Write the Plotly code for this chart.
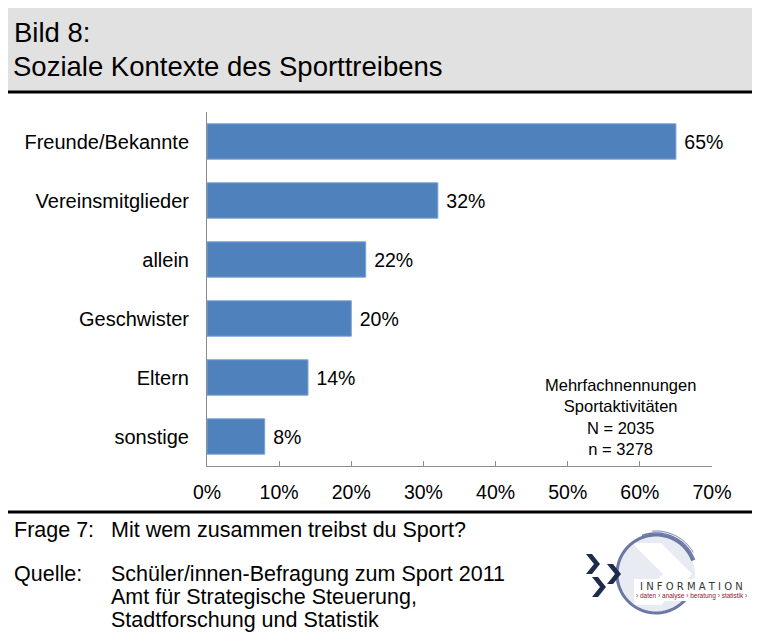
import numpy as np
import plotly.graph_objects as go

# data
kategorien = ["Freunde/Bekannte", "Vereinsmitglieder", "allein", "Geschwister", "Eltern", "sonstige"]
anteile = [65, 32, 22, 20, 14, 8]
x_ticks = [0, 10, 20, 30, 40, 50, 60, 70]
x_ticklabels = ["0%", "10%", "20%", "30%", "40%", "50%", "60%", "70%"]

# the page has an 8px body margin, so the figure is 8px smaller and everything is shifted
OFF = 8
W, H = 760 - OFF, 635 - OFF
L, R, T, B = 207, 712, 112, 466   # plot area in reference pixels
FONT = "Liberation Sans, Arial, sans-serif"


def px(x):
    return (x - L) / (R - L)


def py(y):
    return (B - y) / (B - T)


fig = go.Figure(go.Bar(
    x=anteile, y=kategorien, orientation="h",
    marker=dict(color="#4f81bd", line=dict(color="#7ea3d2", width=1)),
    width=0.6,
    text=["\u00a0" + f"{v}%" for v in anteile], textposition="outside",
    textfont=dict(size=19.5, color="black", family=FONT),
    cliponaxis=False,
))

fig.update_layout(
    width=W, height=H,
    margin=dict(l=L - OFF, r=W - (R - OFF), t=T - OFF, b=H - (B - OFF)),
    paper_bgcolor="white", plot_bgcolor="white",
    font=dict(family=FONT, color="black"),
    showlegend=False,
)
fig.update_xaxes(range=[0, 70], tickvals=x_ticks, ticktext=x_ticklabels,
                 showgrid=False, zeroline=False, showline=True, linecolor="#8c8c8c",
                 ticks="inside", ticklen=5, tickcolor="#8c8c8c",
                 tickfont=dict(size=19.5), ticklabelstandoff=9)
fig.update_yaxes(autorange="reversed", showgrid=False, showline=True, linecolor="#8c8c8c",
                 ticks="", tickfont=dict(size=20), ticklabelstandoff=13)

shapes = []
ann = []

# title box
shapes.append(dict(type="rect", xref="paper", yref="paper", x0=px(0), x1=px(752), y0=py(92), y1=py(6),
                   fillcolor="#e1e1e1", line=dict(width=0), layer="below"))
for yy in (6, 92, 512):
    shapes.append(dict(type="line", xref="paper", yref="paper", x0=px(0), x1=px(770), y0=py(yy), y1=py(yy),
                       line=dict(color="black", width=3)))
ann.append(dict(text="Bild 8:", x=px(12), y=py(32), xanchor="left", yanchor="middle",
                font=dict(size=27.5)))
ann.append(dict(text="Soziale Kontexte des Sporttreibens", x=px(11), y=py(67), xanchor="left",
                yanchor="middle", font=dict(size=27.5)))

# note in plot
ann.append(dict(text="Mehrfachnennungen<br>Sportaktivitäten<br>N = 2035<br>n = 3278",
                x=px(620), y=py(417), xanchor="center", yanchor="middle", align="center",
                font=dict(size=16.5)))

# footer
FS = 21.5
ann.append(dict(text="Frage 7:", x=px(12), y=py(530), xanchor="left", yanchor="middle", font=dict(size=FS)))
ann.append(dict(text="Mit wem zusammen treibst du Sport?", x=px(109), y=py(530), xanchor="left",
                yanchor="middle", font=dict(size=FS)))
ann.append(dict(text="Quelle:", x=px(12), y=py(574), xanchor="left", yanchor="middle", font=dict(size=FS)))
for i, line in enumerate(["Schüler/innen-Befragung zum Sport 2011",
                          "Amt für Strategische Steuerung,",
                          "Stadtforschung und Statistik"]):
    ann.append(dict(text=line, x=px(109), y=py(574 + 23 * i), xanchor="left", yanchor="middle",
                    font=dict(size=FS)))

# logo
cx, cy, r = 656, 574, 39
shapes.append(dict(type="circle", xref="paper", yref="paper", x0=px(cx - r), x1=px(cx + r),
                   y0=py(cy + r), y1=py(cy - r), fillcolor="#e9ebf2", line=dict(width=0)))
# big white chevron inside the circle
chev = [(632, 543), (661, 543), (692, 574), (661, 605), (632, 605), (663, 574)]
shapes.append(dict(type="path", xref="paper", yref="paper",
                   path="M " + " L ".join(f"{px(a)},{py(b)}" for a, b in chev) + " Z",
                   fillcolor="white", line=dict(width=0)))
for rr, w, a0, a1 in [(39, 3, 20, 320), (41, 1.5, 20, 110), (43, 1, 30, 95)]:
    t = np.radians(np.linspace(a0, a1, 60))
    pts = [(cx + rr * np.cos(v), cy - rr * np.sin(v)) for v in t]
    shapes.append(dict(type="path", xref="paper", yref="paper",
                       path="M " + " L ".join(f"{px(a)},{py(b)}" for a, b in pts),
                       line=dict(color="#6b78a6", width=w)))
shapes.append(dict(type="rect", xref="paper", yref="paper", x0=px(634), x1=px(752), y0=py(601), y1=py(579),
                   fillcolor="white", line=dict(width=0)))
for (x0, y0) in [(586, 554), (607, 564), (592, 577)]:
    p = [(x0, y0), (x0 + 6, y0), (x0 + 14, y0 + 10), (x0 + 6, y0 + 20), (x0, y0 + 20), (x0 + 8, y0 + 10)]
    shapes.append(dict(type="path", xref="paper", yref="paper",
                       path="M " + " L ".join(f"{px(a)},{py(b)}" for a, b in p) + " Z",
                       fillcolor="#1f2b4a", line=dict(width=0)))
ann.append(dict(text="I N F O R M A T I O N", x=px(691), y=py(586), xanchor="center", yanchor="middle",
                font=dict(size=10, color="#333333", family="DejaVu Sans")))
ann.append(dict(text="› daten › analyse › beratung › statistik ›", x=px(691), y=py(596), xanchor="center",
                yanchor="middle", font=dict(size=6.5, color="#8b1a2a")))

for a in ann:
    a.update(xref="paper", yref="paper", showarrow=False)
fig.update_layout(shapes=shapes, annotations=ann)

fig.write_html("out.html")
